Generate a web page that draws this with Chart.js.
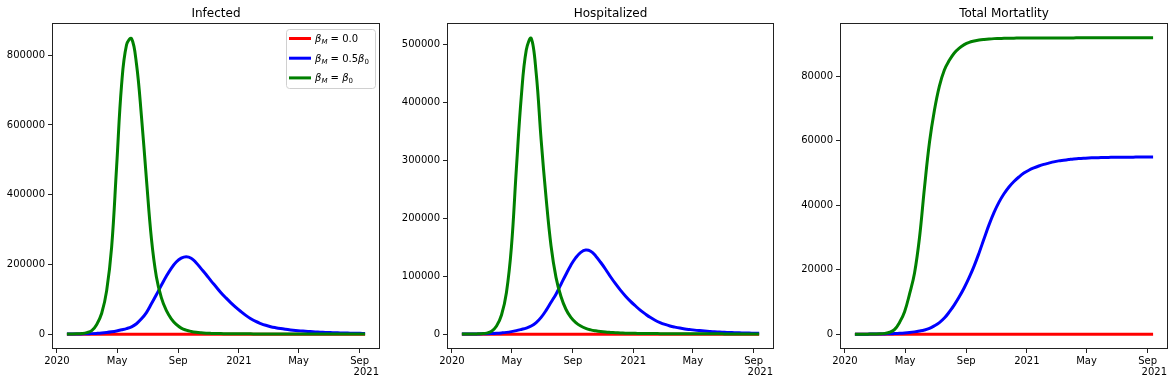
<!DOCTYPE html>
<html>
<head>
<meta charset="utf-8">
<script src="https://cdn.jsdelivr.net/npm/chart.js@4.4.1/dist/chart.umd.min.js"></script>
<style>
body { margin: 0; background: #fff; width: 1175px; height: 386px; overflow: hidden; position: relative; }
canvas { position: absolute; top: 0; }
</style>
</head>
<body>
<canvas id="c1" width="395" height="386" style="left:0px"></canvas>
<canvas id="c2" width="393" height="386" style="left:395px"></canvas>
<canvas id="c3" width="387" height="386" style="left:788px"></canvas>
<script>
// x values are days since 2020-01-01
const days = [20, 30, 40, 50, 60, 70, 80, 90, 100, 110, 120, 130, 140, 150, 160, 170, 180, 190, 200, 210,
  220, 230, 240, 250, 260, 270, 280, 290, 300, 310, 320, 330, 340, 350, 360, 370, 380, 390, 400, 410,
  420, 430, 440, 450, 460, 470, 480, 490, 500, 510, 520, 530, 540, 550, 560, 570, 580, 590, 600, 610, 620];

const zeroLine = [0, 0, 0, 0, 0, 0, 0, 0, 0, 0, 0, 0, 0, 0, 0, 0, 0, 0, 0, 0,
  0, 0, 0, 0, 0, 0, 0, 0, 0, 0, 0, 0, 0, 0, 0, 0, 0, 0, 0, 0,
  0, 0, 0, 0, 0, 0, 0, 0, 0, 0, 0, 0, 0, 0, 0, 0, 0, 0, 0, 0, 0];

const infectedHalf = [300, 400, 600, 800, 1100, 1600, 2300, 3300, 4800, 6800, 9300, 12500, 16000, 21000, 30000, 44000, 62000, 87000, 113000, 140000,
  166000, 189000, 207000, 218000, 222000, 218000, 205000, 188000, 171000, 153000, 136000, 119000, 104000, 90000, 77000, 65000, 54000, 44500, 36500, 30500,
  25500, 21500, 18500, 16000, 14000, 12300, 10800, 9500, 8400, 7400, 6500, 5800, 5100, 4500, 4000, 3600, 3200, 2900, 2600, 2400, 2200];
const infectedFull = [200, 400, 900, 2000, 4500, 10000, 28000, 60000, 125000, 250000, 480000, 715000, 830000, 848000, 775000, 625000, 445000, 275000, 165000, 105000,
  68000, 44000, 28000, 17500, 11500, 7800, 5400, 3900, 2900, 2300, 1900, 1600, 1400, 1200, 1100, 1000, 950, 900, 850, 800,
  760, 720, 690, 660, 630, 600, 580, 560, 540, 520, 500, 490, 480, 470, 460, 450, 440, 430, 420, 410, 400];

const hospHalf = [150, 200, 300, 400, 550, 750, 1050, 1500, 2200, 3100, 4400, 6100, 8200, 10500, 14000, 20000, 29000, 41000, 55000, 69000,
  86000, 103000, 119000, 132000, 141000, 145000, 143000, 135000, 124000, 112000, 99000, 87000, 76000, 66000, 57000, 49000, 41500, 35000, 29000, 24000,
  20000, 16800, 14200, 12200, 10500, 9100, 8000, 7000, 6200, 5500, 4800, 4200, 3800, 3300, 2900, 2600, 2400, 2100, 1900, 1700, 1600];
const hospFull = [100, 200, 300, 500, 900, 1800, 5000, 14000, 33000, 72000, 150000, 285000, 410000, 490000, 510000, 450000, 335000, 235000, 152000, 98000,
  65000, 43000, 29000, 20000, 14000, 10000, 7500, 5800, 4500, 3600, 3000, 2500, 2100, 1800, 1600, 1450, 1300, 1200, 1100, 1000,
  950, 900, 850, 800, 760, 720, 690, 660, 630, 600, 580, 560, 540, 520, 500, 490, 480, 470, 460, 450, 440];

const deathsHalf = [0, 0, 10, 20, 30, 50, 80, 120, 180, 260, 370, 520, 720, 980, 1300, 1800, 2600, 3600, 5000, 6900,
  9100, 11600, 14400, 17600, 21200, 25300, 29700, 34000, 37800, 41000, 43600, 45700, 47400, 48800, 50000, 50900, 51600, 52200, 52700, 53100,
  53500, 53800, 54000, 54200, 54400, 54500, 54600, 54700, 54750, 54800, 54850, 54880, 54900, 54920, 54940, 54950, 54960, 54970, 54980, 54990, 55000];
const deathsFull = [0, 0, 10, 20, 50, 100, 250, 600, 1500, 3700, 7000, 12500, 19000, 30000, 45500, 59500, 69500, 77000, 82000, 85000,
  87300, 88800, 89900, 90600, 91000, 91300, 91500, 91650, 91750, 91800, 91850, 91880, 91900, 91910, 91920, 91930, 91940, 91950, 91955, 91960,
  91965, 91970, 91975, 91980, 91982, 91984, 91986, 91988, 91990, 91991, 91992, 91993, 91994, 91995, 91996, 91997, 91998, 91999, 92000, 92000, 92000];

const xTickDays = [0, 121, 244, 366, 486, 609];
const xTickLabels = ['2020', 'May', 'Sep', '2021', 'May', 'Sep'];
const xOffsetLabel = '2021';

const infectedTicks = [0, 200000, 400000, 600000, 800000];
const hospTicks = [0, 100000, 200000, 300000, 400000, 500000];
const deathsTicks = [0, 20000, 40000, 60000, 80000];

const titles = ['Infected', 'Hospitalized', 'Total Mortatlity'];
const legendLabels = [
  [['β', 'it'], ['M', 'subit'], [' = 0.0', 'rm']],
  [['β', 'it'], ['M', 'subit'], [' = 0.5', 'rm'], ['β', 'it'], ['0', 'sub']],
  [['β', 'it'], ['M', 'subit'], [' = ', 'rm'], ['β', 'it'], ['0', 'sub']]
];
const colors = ['#ff0000', '#0000ff', '#008000'];

const FONT = '"DejaVu Sans", sans-serif';
Chart.defaults.font.family = FONT;
Chart.defaults.font.size = 10;
Chart.defaults.color = '#000';

const toPoints = (vals) => days.map((d, i) => ({ x: d, y: vals[i] }));

const drawMath = (ctx, parts, x, y) => {
  parts.forEach(([t, s]) => {
    const sub = s.startsWith('sub');
    ctx.font = (s.endsWith('it') ? 'italic ' : '') + (sub ? '7px ' : '10px ') + FONT;
    ctx.fillText(t, x, sub ? y + 2 : y);
    x += ctx.measureText(t).width;
  });
};

const decorations = {
  id: 'decorations',
  afterDraw(chart, args, opts) {
    const ctx = chart.ctx;
    const a = chart.chartArea;
    ctx.save();
    ctx.strokeStyle = '#222';
    ctx.lineWidth = 1;
    ctx.strokeRect(Math.round(a.left) + 0.5, Math.round(a.top) + 0.5, Math.round(a.right - a.left) - 1, Math.round(a.bottom - a.top) - 1);
    ctx.fillStyle = '#000';
    ctx.font = '12px ' + FONT;
    ctx.textAlign = 'center';
    ctx.textBaseline = 'alphabetic';
    ctx.fillText(opts.title, (a.left + a.right) / 2, 17);
    ctx.font = '10px ' + FONT;
    ctx.textAlign = 'right';
    ctx.textBaseline = 'top';
    ctx.fillText(xOffsetLabel, a.right - 1, 367);
    if (opts.legend) {
      const bx = 286.5, by = 29.5, bw = 89, bh = 59;
      ctx.beginPath();
      ctx.roundRect(bx, by, bw, bh, 3);
      ctx.fillStyle = 'rgba(255,255,255,0.8)';
      ctx.fill();
      ctx.strokeStyle = '#d0d0d0';
      ctx.stroke();
      legendLabels.forEach((parts, i) => {
        const ly = 38.5 + i * 19.7;
        ctx.strokeStyle = colors[i];
        ctx.lineWidth = 3;
        ctx.beginPath();
        ctx.moveTo(289, ly);
        ctx.lineTo(311, ly);
        ctx.stroke();
        ctx.fillStyle = '#000';
        ctx.textAlign = 'left';
        ctx.textBaseline = 'alphabetic';
        drawMath(ctx, parts, 315, ly + 3.5);
      });
    }
    ctx.restore();
  }
};

const makeChart = (id, series, yMin, yMax, yTicks, title, rightPad, legend) => {
  const datasets = series.map((vals, i) => ({
    data: toPoints(vals),
    borderColor: colors[i],
    borderWidth: 3,
    pointRadius: 0,
    fill: false,
    tension: 0.4,
    order: 2 - i
  }));
  new Chart(document.getElementById(id), {
    type: 'line',
    data: { datasets: datasets },
    options: {
      responsive: false,
      animation: false,
      layout: { padding: { top: 23, right: rightPad, left: 0, bottom: 0 } },
      plugins: {
        legend: { display: false },
        tooltip: { enabled: false },
        title: { display: false },
        decorations: { title: title, legend: legend }
      },
      scales: {
        x: {
          type: 'linear',
          min: -10,
          max: 650,
          afterBuildTicks: (s) => { s.ticks = xTickDays.map(v => ({ value: v })); },
          afterFit: (s) => { s.height = 37; },
          ticks: {
            autoSkip: false,
            maxRotation: 0,
            padding: 2,
            color: '#000',
            callback: (v, i) => xTickLabels[i]
          },
          grid: { drawOnChartArea: false, drawTicks: true, tickLength: 4, tickColor: '#222' },
          border: { display: false }
        },
        y: {
          min: yMin,
          max: yMax,
          afterBuildTicks: (s) => { s.ticks = yTicks.map(v => ({ value: v })); },
          afterFit: (s) => { s.width = 52; },
          ticks: {
            padding: 3,
            color: '#000',
            callback: (v) => String(v)
          },
          grid: { drawOnChartArea: false, drawTicks: true, tickLength: 4, tickColor: '#222' },
          border: { display: false }
        }
      }
    },
    plugins: [decorations]
  });
};

makeChart('c1', [zeroLine, infectedHalf, infectedFull], -42500, 892500, infectedTicks, titles[0], 15, true);
makeChart('c2', [zeroLine, hospHalf, hospFull], -25550, 536550, hospTicks, titles[1], 14, false);
makeChart('c3', [zeroLine, deathsHalf, deathsFull], -4600, 96600, deathsTicks, titles[2], 7, false);
</script>
</body>
</html>
